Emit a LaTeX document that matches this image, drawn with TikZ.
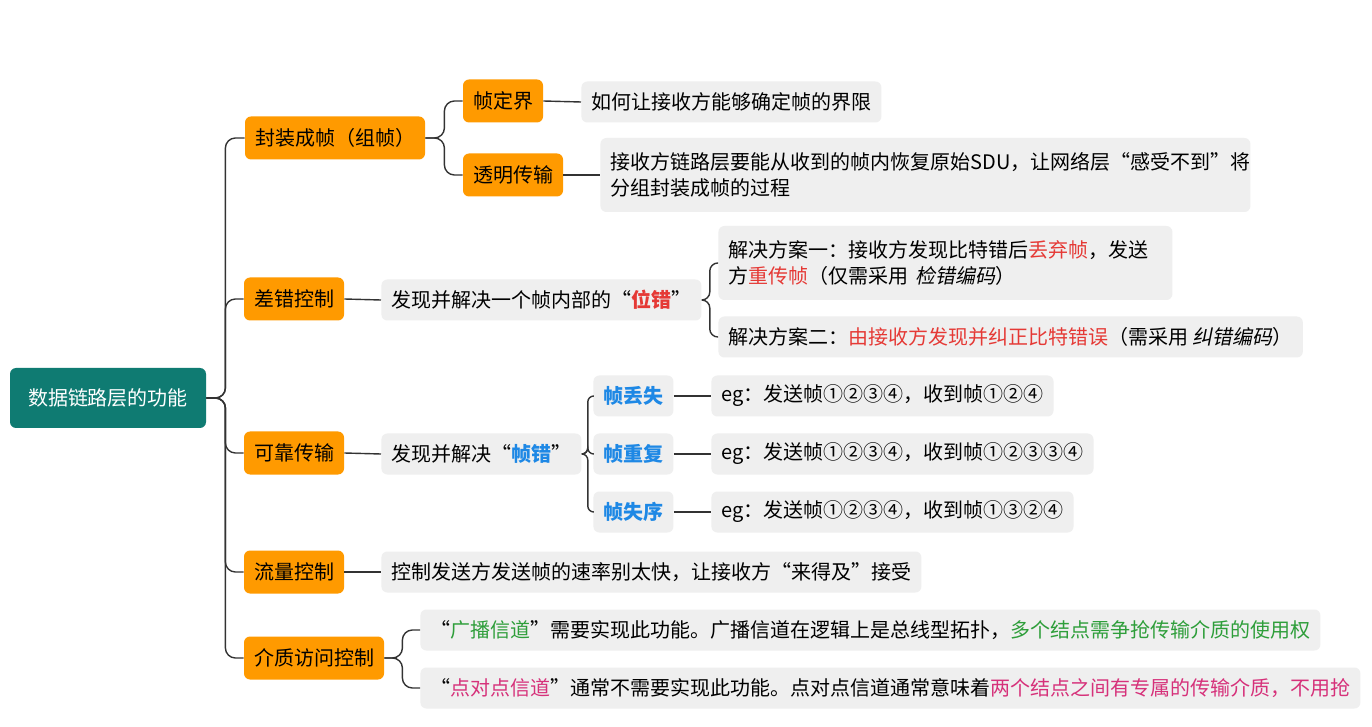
\documentclass[tikz,border=0pt]{standalone}
\usepackage{fontspec}
\setmainfont{Noto Sans CJK SC}
\newfontfamily\slantcjk[FakeSlant=0.2]{Noto Sans CJK SC}
\usetikzlibrary{positioning, calc}
\definecolor{rootteal}{HTML}{0F7B72}
\definecolor{keyorange}{HTML}{FF9A00}
\definecolor{leafgray}{HTML}{EFEFEF}
\definecolor{hired}{HTML}{E53935}
\definecolor{hiblue}{HTML}{1E88E5}
\definecolor{higreen}{HTML}{2E9E3A}
\definecolor{hipink}{HTML}{D6317A}
\definecolor{linkgray}{HTML}{333333}
\tikzset{
  rootbox/.style={fill=rootteal, text=white, rounded corners=3pt, minimum height=30pt, minimum width=98pt, font=\fontsize{10}{12}\selectfont},
  topicbox/.style={fill=keyorange, rounded corners=3pt, minimum height=21.5pt, inner xsep=5pt, font=\fontsize{10}{12}\selectfont},
  leafbox/.style={fill=leafgray, rounded corners=3pt, minimum height=20.5pt, inner xsep=5pt, font=\fontsize{10}{13}\selectfont, anchor=west},
  link/.style={draw=linkgray, line width=0.7pt, rounded corners=5pt},
}
\begin{document}
\begin{tikzpicture}[x=0.5pt, y=-0.5pt]
  \useasboundingbox [fill=white] (0,0) rectangle (1372,727);

  \node [rootbox] (root) at (108,398) {数据链路层的功能};

  \node [topicbox] (frame) at (335,138) {封装成帧（组帧）};
  \node [topicbox] (error) at (294,299) {差错控制};
  \node [topicbox] (reliable) at (294,453) {可靠传输};
  \node [topicbox] (flow) at (294,572) {流量控制};
  \node [topicbox] (mac) at (314,658) {介质访问控制};

  \node [topicbox] (delim) at (503,101) {帧定界};
  \node [topicbox] (transp) at (513,175) {透明传输};
  \node [leafbox] (delimtxt) at (581,102) {如何让接收方能够确定帧的界限};
  \node [leafbox, text width=315pt, align=left, minimum height=37pt] (transptxt) at (600,175)
    {接收方链路层要能从收到的帧内恢复原始SDU，让网络层“感受不到”将\\分组封装成帧的过程};

  \node [leafbox] (bit) at (381,300) {发现并解决一个帧内部的“\textcolor{hired}{\textbf{位错}}”};
  \node [leafbox, text width=217pt, align=left, minimum height=37pt] (plana) at (718,263)
    {解决方案一：接收方发现比特错后\textcolor{hired}{丢弃帧}，发送\\方\textcolor{hired}{重传帧}（仅需采用 {\slantcjk 检错编码}）};
  \node [leafbox] (planb) at (718,337) {解决方案二：\textcolor{hired}{由接收方发现并纠正比特错误}（需采用 {\slantcjk 纠错编码}）};

  \node [leafbox] (frameerr) at (381,454) {发现并解决“\textcolor{hiblue}{\textbf{帧错}}”};
  \node [leafbox, text=hiblue, font=\bfseries\fontsize{10}{12}\selectfont] (lost) at (593,396) {帧丢失};
  \node [leafbox, text=hiblue, font=\bfseries\fontsize{10}{12}\selectfont] (dup) at (593,454) {帧重复};
  \node [leafbox, text=hiblue, font=\bfseries\fontsize{10}{12}\selectfont] (order) at (593,512) {帧失序};
  \node [leafbox] (losteg) at (711,396) {eg：发送帧①②③④，收到帧①②④};
  \node [leafbox] (dupeg) at (711,454) {eg：发送帧①②③④，收到帧①②③③④};
  \node [leafbox] (ordereg) at (711,512) {eg：发送帧①②③④，收到帧①③②④};

  \node [leafbox] (flowtxt) at (381,572) {控制发送方发送帧的速率别太快，让接收方“来得及”接受};

  \node [leafbox] (bcast) at (420,630) {“\textcolor{higreen}{广播信道}”需要实现此功能。广播信道在逻辑上是总线型拓扑，\textcolor{higreen}{多个结点需争抢传输介质的使用权}};
  \node [leafbox] (p2p) at (420,688) {“\textcolor{hipink}{点对点信道}”通常不需要实现此功能。点对点信道通常意味着\textcolor{hipink}{两个结点之间有专属的传输介质，不用抢}};

  % root branches
  \foreach \kid in {frame, error, reliable, flow, mac}
    \draw [link] (root.east) -- ($(root.east)+(19,0)$) |- (\kid.west);
  % frame branches
  \foreach \kid in {delim, transp}
    \draw [link] (frame.east) -- ($(frame.east)+(19,0)$) |- (\kid.west);
  \draw [link] (delim.east) -- (delimtxt.west);
  \draw [link] (transp.east) -- (transptxt.west);
  % error branches
  \draw [link] (error.east) -- (bit.west);
  \foreach \kid in {plana, planb}
    \draw [link, rounded corners=4pt] (bit.east) -- ($(bit.east)+(8,0)$) |- (\kid.west);
  % reliable branches
  \draw [link] (reliable.east) -- (frameerr.west);
  \foreach \kid in {lost, dup, order}
    \draw [link, rounded corners=3pt] (frameerr.east) -- ($(frameerr.east)+(6,0)$) |- (\kid.west);
  \draw [link] (lost.east) -- (losteg.west);
  \draw [link] (dup.east) -- (dupeg.west);
  \draw [link] (order.east) -- (ordereg.west);
  % flow and mac
  \draw [link] (flow.east) -- (flowtxt.west);
  \foreach \kid in {bcast, p2p}
    \draw [link] (mac.east) -- ($(mac.east)+(18,0)$) |- (\kid.west);
\end{tikzpicture}
\end{document}
